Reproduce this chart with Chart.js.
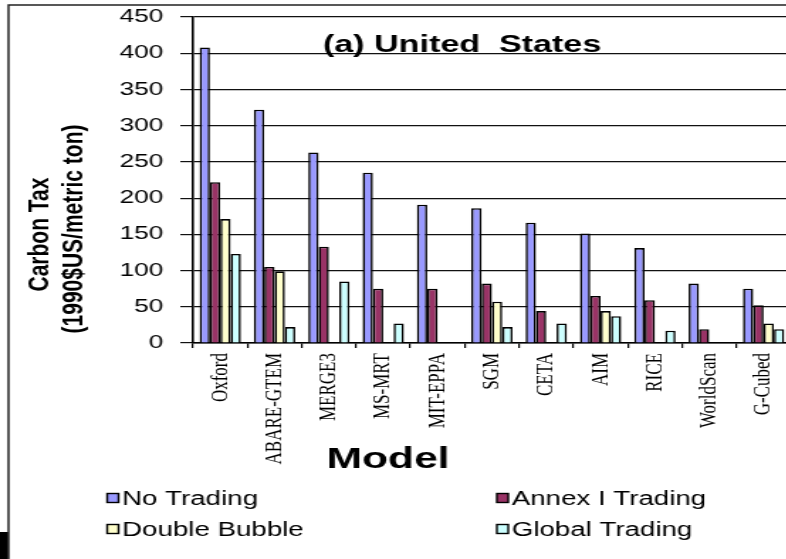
<!DOCTYPE html>
<html><head><meta charset="utf-8">
<script src="https://cdn.jsdelivr.net/npm/chart.js@4/dist/chart.umd.min.js"></script>
<style>
html,body{margin:0;padding:0;background:#fff;overflow:hidden;width:786px;height:559px;}
</style></head><body>
<canvas id="c" width="560" height="559" style="width:795px;height:559px;display:block"></canvas>
<script>
// ---- data ----
const categories = ['Oxford','ABARE-GTEM','MERGE3','MS-MRT','MIT-EPPA','SGM','CETA','AIM','RICE','WorldScan','G-Cubed'];
const seriesNames = ['No Trading','Annex I Trading','Double Bubble','Global Trading'];
const noTrading     = [408, 322, 263, 235, 191, 186, 166, 151, 131, 82, 75];
const annexITrading = [222, 105, 133, 75, 75, 82, 44, 65, 59, 19, 52];
const doubleBubble  = [171, 99, null, null, null, 57, null, 44, null, null, 27];
const globalTrading = [123, 22, 85, 27, null, 22, 27, 37, 17, null, 19];
const yMin = 0, yMax = 450, yStep = 50;
const chartTitle = '(a) United  States';
const xTitle = 'Model';
const yTitleLines = ['Carbon Tax', '(1990$US/metric ton)'];

const colors = ['#9999FF', '#993366', '#FFFFCC', '#CCFFFF'];
const seriesValues = [noTrading, annexITrading, doubleBubble, globalTrading];

const SANS = '"Liberation Sans", Arial, sans-serif';
const SERIF = '"Liberation Serif", "Times New Roman", serif';

const framePlugin = {
  id: 'frame',
  beforeDraw(chart) {
    const ctx = chart.ctx;
    ctx.save();
    ctx.fillStyle = '#fff';
    ctx.fillRect(0, 0, chart.width, chart.height);
    ctx.strokeStyle = '#222';
    ctx.lineWidth = 1.5;
    ctx.beginPath();
    ctx.moveTo(6, chart.height);
    ctx.lineTo(6, 5);
    ctx.lineTo(chart.width, 5);
    ctx.stroke();
    ctx.fillStyle = '#000';
    ctx.fillRect(0, 532, 5.6, 27);
    ctx.restore();
  }
};

const textPlugin = {
  id: 'texts',
  afterDraw(chart) {
    const ctx = chart.ctx;
    ctx.save();
    ctx.fillStyle = '#000';
    ctx.textBaseline = 'alphabetic';
    ctx.textAlign = 'left';
    // chart title inside the plot
    ctx.font = 'bold 24px ' + SANS;
    ctx.fillText(chartTitle, 227.5, 51.5);
    // x axis title
    ctx.font = 'bold 30px ' + SANS;
    ctx.fillText(xTitle, 230, 468);
    // y axis title (two rotated lines)
    ctx.font = 'bold 21px ' + SANS;
    ctx.textAlign = 'center';
    const yPos = [[33.8, 234.5], [57.7, 229]];
    yTitleLines.forEach((t, i) => {
      ctx.save();
      ctx.translate(yPos[i][0], yPos[i][1]);
      ctx.rotate(-Math.PI / 2);
      ctx.fillText(t, 0, 0);
      ctx.restore();
    });
    // legend (2 x 2 grid)
    ctx.textAlign = 'left';
    ctx.font = '19.5px ' + SANS;
    const cols = [75.5, 350];
    const rows = [505, 536];
    chart.data.datasets.forEach((ds, i) => {
      const bx = cols[i % 2], by = rows[Math.floor(i / 2)];
      ctx.fillStyle = ds.backgroundColor;
      ctx.fillRect(bx, by - 11.5, 8, 9);
      ctx.strokeStyle = '#000';
      ctx.lineWidth = 1.4;
      ctx.strokeRect(bx, by - 11.5, 8, 9);
      ctx.fillStyle = '#000';
      ctx.fillText(ds.label, bx + 10.5, by);
    });
    ctx.restore();
  }
};

new Chart(document.getElementById('c'), {
  type: 'bar',
  data: {
    labels: categories,
    datasets: seriesValues.map((vals, i) => ({
      label: seriesNames[i],
      data: vals,
      backgroundColor: colors[i],
      borderColor: '#000',
      borderWidth: 1.6,
      categoryPercentage: 0.76,
      barPercentage: 1.0
    }))
  },
  options: {
    responsive: false,
    animation: false,
    layout: { padding: { left: 36, right: 3, top: 17, bottom: 0 } },
    plugins: { legend: { display: false }, tooltip: { enabled: false }, title: { display: false } },
    scales: {
      x: {
        grid: { display: true, drawOnChartArea: false, color: '#000', tickLength: 5, lineWidth: 1.2 },
        border: { display: true, color: '#000', width: 1.5 },
        ticks: { color: '#000', font: { family: SERIF, size: 17 }, minRotation: 90, maxRotation: 90, padding: 5, autoSkip: false },
        afterFit(s) { s.height = 216; s.paddingLeft = 0; s.paddingRight = 0; }
      },
      y: {
        min: yMin, max: yMax,
        ticks: { stepSize: yStep, color: '#000', font: { family: SANS, size: 18.5 }, padding: 12 },
        grid: { color: '#111', lineWidth: 1.2, tickLength: 9 },
        border: { color: '#000', width: 1.6 },
        afterFit(s) { s.width = 100; s.paddingTop = 0; s.paddingBottom = 0; }
      }
    }
  },
  plugins: [framePlugin, textPlugin]
});
</script>
</body></html>
